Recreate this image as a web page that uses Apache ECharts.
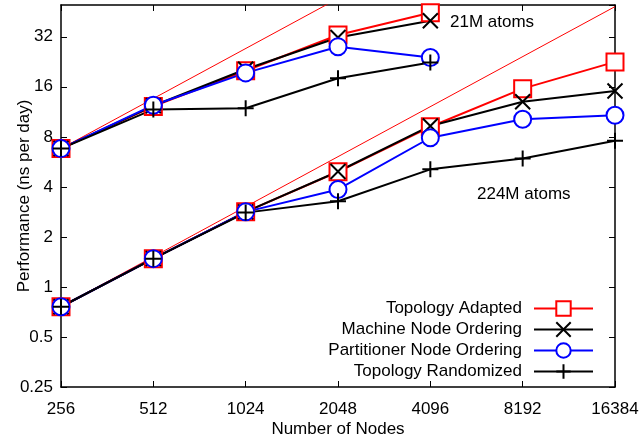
<!DOCTYPE html>
<html>
<head>
<meta charset="utf-8">
<script src="https://cdn.jsdelivr.net/npm/echarts@6/dist/echarts.min.js"></script>
<style>
  html, body { margin: 0; padding: 0; background: #fff; }
  #chart { width: 642px; height: 439px; }
</style>
</head>
<body>
<div id="chart"></div>
<script>
const nodes = [256, 512, 1024, 2048, 4096, 8192, 16384]

// 21M atoms (up to 4096 nodes)
const adapted21 = [6.8, 12.2, 20.0, 32.8, 44.6]
const machine21 = [6.8, 12.3, 20.4, 31.7, 40.0]
const partitioner21 = [6.8, 12.4, 19.4, 27.9, 24.0]
const random21 = [6.8, 11.7, 11.9, 18.0, 22.4]

// 224M atoms
const adapted224 = [0.76, 1.48, 2.83, 4.93, 9.2, 15.6, 22.6]
const machine224 = [0.76, 1.48, 2.83, 4.95, 9.3, 13.0, 15.1]
const partitioner224 = [0.76, 1.48, 2.83, 3.86, 7.9, 10.2, 10.8]
const random224 = [0.76, 1.48, 2.8, 3.28, 5.1, 5.93, 7.57]

// ideal scaling lines (start, end)
const ideal21 = [[256, 6.8], [16384, 435]]
const ideal224 = [[256, 0.76], [16384, 48.6]]

const names = ['Topology Adapted', 'Machine Node Ordering', 'Partitioner Node Ordering', 'Topology Randomized']

const font = 'Liberation Sans, Arial, sans-serif'
const fs = 17
const pair = (vals) => vals.map((v, i) => [nodes[i], v])

const styles = [
  { color: '#ff0000', symbol: 'emptyRect', symbolSize: 17, itemStyle: { color: '#ff0000' } },
  { color: '#000000', symbol: 'path://M0,0L10,10M10,0L0,10', symbolSize: 15, itemStyle: { color: '#000', borderColor: '#000', borderWidth: 2 } },
  { color: '#0000ff', symbol: 'emptyCircle', symbolSize: 17, itemStyle: { color: '#0000ff' } },
  { color: '#000000', symbol: 'path://M5,0L5,10M0,5L10,5', symbolSize: 16, itemStyle: { color: '#000', borderColor: '#000', borderWidth: 2 } },
]

const groups = [
  [adapted21, machine21, partitioner21, random21],
  [adapted224, machine224, partitioner224, random224],
]

const series = [
  { type: 'line', name: 'ideal1', data: ideal21, symbol: 'none', lineStyle: { color: '#ff0000', width: 1 }, silent: true },
  { type: 'line', name: 'ideal2', data: ideal224, symbol: 'none', lineStyle: { color: '#ff0000', width: 1 }, silent: true },
]
names.forEach((name, k) => {
  groups.forEach((g) => {
    series.push({
      type: 'line',
      name,
      data: pair(g[k]),
      symbol: styles[k].symbol,
      symbolSize: styles[k].symbolSize,
      symbolKeepAspect: true,
      color: styles[k].color,
      lineStyle: { color: styles[k].color, width: 2 },
      itemStyle: styles[k].itemStyle,
    })
  })
})

const axisLine = { lineStyle: { color: '#000', width: 1.5 } }
const tick = { inside: true, length: 6, lineStyle: { color: '#000', width: 1 } }

const myChart = echarts.init(document.getElementById('chart'))
myChart.setOption({
  animation: false,
  grid: { left: 61, right: 27, top: 5, bottom: 52, outerBoundsMode: 'none', containLabel: false },
  xAxis: [{
    type: 'log',
    logBase: 2,
    min: 256,
    max: 16384,
    name: 'Number of Nodes',
    nameLocation: 'middle',
    nameGap: 34,
    nameMoveOverlap: false,
    nameTextStyle: { fontFamily: font, fontSize: fs, color: '#000' },
    axisLine,
    axisTick: tick,
    splitLine: { show: false },
    axisLabel: { fontFamily: font, fontSize: fs, color: '#000', margin: 14, formatter: (v) => String(Math.round(v)) },
  }, {
    type: 'log',
    logBase: 2,
    min: 256,
    max: 16384,
    position: 'top',
    axisLine,
    axisTick: tick,
    splitLine: { show: false },
    axisLabel: { show: false },
  }],
  yAxis: [{
    type: 'log',
    logBase: 2,
    min: 0.25,
    max: 49.7,
    name: 'Performance (ns per day)',
    nameLocation: 'middle',
    nameGap: 28,
    nameMoveOverlap: false,
    nameTextStyle: { fontFamily: font, fontSize: fs, color: '#000' },
    axisLine,
    axisTick: tick,
    splitLine: { show: false },
    axisLabel: { fontFamily: font, fontSize: fs, color: '#000', margin: 8, showMaxLabel: false },
  }, {
    type: 'log',
    logBase: 2,
    min: 0.25,
    max: 49.7,
    position: 'right',
    axisLine,
    axisTick: tick,
    splitLine: { show: false },
    axisLabel: { show: false },
  }],
  legend: {
    data: names,
    orient: 'vertical',
    right: 43,
    top: 295,
    align: 'right',
    itemWidth: 59,
    itemHeight: 18,
    itemGap: 4,
    textStyle: { fontFamily: font, fontSize: fs, color: '#000', padding: [0, 7, 0, 0] },
  },
  graphic: [
    { type: 'text', left: 450, top: 14, style: { text: '21M atoms', font: `${fs}px ${font}`, fill: '#000' } },
    { type: 'text', left: 477, top: 186, style: { text: '224M atoms', font: `${fs}px ${font}`, fill: '#000' } },
  ],
  series,
})
</script>
</body>
</html>
